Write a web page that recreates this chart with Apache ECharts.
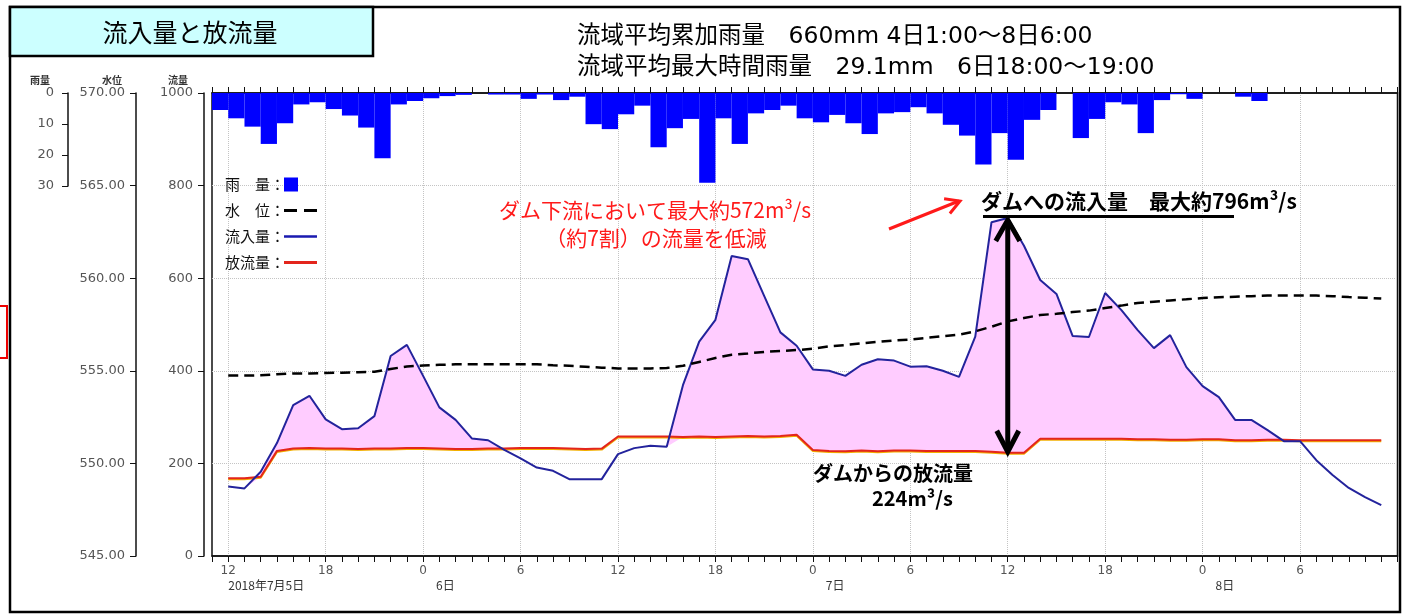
<!DOCTYPE html>
<html><head><meta charset="utf-8">
<script src="https://cdn.jsdelivr.net/npm/echarts/dist/echarts.min.js"></script>
<style>html,body{margin:0;padding:0;background:#fff;}#c{width:1403px;height:615px;}</style>
</head><body><div id="c"></div>
<script>
// ---- data (hours counted from 2018-07-05 00:00) ----
const axisStartHour = 11, axisEndHour = 84;
const dataStartHour = 12;           // first hourly value (5日12:00)
const inflow = [150,146,182,244,326,346,295,274,276,302,
  432,456,389,321,294,254,250,229,211,191,
  184,166,166,166,220,233,238,236,369,463,
  510,648,641,562,483,454,403,400,389,413,
  425,422,409,410,400,387,474,721,730,670,
  596,566,475,473,568,531,488,449,477,408,
  367,343,294,294,272,248,248,207,175,147,127,110];
const outflow = [168,168,171,227,232,233,232,232,231,232,
  232,233,233,232,231,231,232,232,233,233,
  233,232,231,232,258,258,258,258,257,258,
  257,258,259,258,259,262,229,227,226,228,
  226,228,228,227,227,227,227,225,223,223,
  253,253,253,253,253,253,252,252,251,251,
  252,252,250,250,251,251,250,250,250,250,250,250];
const waterLevel = [554.74,554.74,554.76,554.81,554.86,554.86,554.88,554.90,554.92,554.95,
  555.10,555.23,555.29,555.32,555.35,555.35,555.35,555.35,555.35,555.35,
  555.30,555.27,555.22,555.17,555.13,555.13,555.13,555.15,555.27,555.48,
  555.69,555.87,555.94,556.02,556.07,556.12,556.19,556.32,556.39,556.48,
  556.56,556.64,556.69,556.78,556.87,556.95,557.13,557.38,557.67,557.85,
  558.01,558.08,558.17,558.25,558.39,558.52,558.66,558.73,558.80,558.86,
  558.93,558.97,559.00,559.03,559.06,559.07,559.07,559.06,559.03,558.98,558.95,558.90];
const rainStartHour = 11;           // each bar covers [h, h+1]
const rainfall = [5.5,8.2,10.9,16.5,9.8,3.7,3.0,5.2,7.3,11.2,
  21.1,3.7,2.6,1.7,1.0,0.6,0,0.5,0.5,1.9,
  0.5,2.3,1.2,10.1,11.7,6.9,4.1,17.6,11.4,8.4,
  29.1,8.2,16.5,6.6,5.5,4.1,8.2,9.5,7.1,9.8,
  13.3,6.6,6.2,4.6,6.6,10.3,13.8,23.2,13.0,21.6,
  8.7,5.5,0,14.6,8.4,3.0,3.7,13.0,2.3,0.4,
  1.9,0,0,1.2,2.6,0,0,0,0,0,0,0,0];
const dateHours = [12, 24, 48, 72];
const dateTexts = ['2018年7月5日', '6日', '7日', '8日'];
const peakHour = 60;   // 7日12:00 arrow

// ---- build ----
const hourCats = []; for (let h = axisStartHour; h <= axisEndHour; h++) hourCats.push(String(h));
const rainCats = []; for (let h = rainStartHour; h < axisEndHour; h++) rainCats.push(String(h));
function align(arr, first) { const o = hourCats.map(() => null); arr.forEach((v, i) => { o[first - axisStartHour + i] = v; }); return o; }
const inS = align(inflow, dataStartHour), outS = align(outflow, dataStartHour), lvS = align(waterLevel, dataStartHour);
const fillBase = inS.map((v, i) => v == null ? null : Math.min(v, outS[i]));
const fillTop = inS.map((v, i) => v == null ? null : Math.max(v - outS[i], 0));

const JP = 'Noto Sans CJK JP';
const MIX = '"DejaVu Sans", "Noto Sans CJK JP"';
const chart = echarts.init(document.getElementById('c'));
const axCol = '#111';
const lblStyle = { color: '#555', fontSize: 13, fontFamily: 'DejaVu Sans' };
const nameStyle = (pr) => ({ fontSize: 10, color: '#333', fontWeight: 'bold', fontFamily: JP, align: 'right', padding: [0, pr, 0, 0] });
const gridLine = { type: 'dotted', color: '#c4c4c4' };
const isSix = v => (+v) % 6 === 0 && +v > axisStartHour && +v < axisEndHour;

const option = {
  animation: false,
  backgroundColor: '#fff',
  grid: [
    { left: 212, top: 93, width: 1185.5, height: 463, show: true, borderColor: axCol, borderWidth: 1.5, backgroundColor: 'transparent' },
    { left: 68, top: 93, width: 20, height: 93, show: false }
  ],
  legend: {
    data: [
      { name: '雨　量', icon: 'path://M0,0H14V14H0Z M33,7L33,7.01Z' },
      { name: '水　位', icon: 'path://M0,5.5H13V8.5H0Z M20,5.5H33V8.5H20Z M0,0L0,0.01Z M0,14L0,14.01Z' },
      { name: '流入量', icon: 'path://M0,5.7H33V8.3H0Z M0,0L0,0.01Z M0,14L0,14.01Z' },
      { name: '放流量', icon: 'path://M0,5.5H33V8.5H0Z M0,0L0,0.01Z M0,14L0,14.01Z' }
    ],
    orient: 'vertical', left: 225, top: 177, align: 'right', padding: 0,
    itemWidth: 33, itemHeight: 14, itemGap: 11, selectedMode: false,
    formatter: n => n + '：',
    textStyle: { fontSize: 15, color: '#111', fontFamily: JP, padding: [0, -6, 0, 0] }
  },
  xAxis: [
    { type: 'category', gridIndex: 0, data: hourCats, boundaryGap: false, position: 'bottom',
      axisLine: { onZero: false, lineStyle: { color: axCol, width: 1.5 } },
      axisTick: { show: true, interval: 0, length: 6, lineStyle: { color: axCol } },
      axisLabel: { interval: (i, v) => isSix(v), formatter: v => String((+v) % 24),
        margin: 9, color: '#555', fontSize: 12, fontFamily: 'DejaVu Sans' },
      splitLine: { show: true, interval: (i, v) => isSix(v), lineStyle: gridLine } },
    { type: 'category', gridIndex: 0, data: hourCats, boundaryGap: false, position: 'bottom',
      axisLine: { show: false, onZero: false }, axisTick: { show: false }, splitLine: { show: false },
      axisLabel: { interval: (i, v) => dateHours.indexOf(+v) >= 0,
        formatter: v => { const k = dateHours.indexOf(+v); return k < 0 ? '' : (k === 0 ? '{a|' : '{b|') + dateTexts[k] + '}'; },
        align: 'left', margin: 23,
        rich: { a: { fontSize: 12, color: '#333', fontFamily: JP }, b: { fontSize: 12, color: '#333', fontFamily: JP, padding: [0, 0, 0, 13] } } } },
    { type: 'category', gridIndex: 0, data: hourCats, boundaryGap: false, position: 'top',
      axisLine: { onZero: false, lineStyle: { color: axCol, width: 1.5 } },
      axisTick: { show: true, interval: 0, length: 6, lineStyle: { color: axCol } },
      axisLabel: { show: false }, splitLine: { show: false } },
    { type: 'category', gridIndex: 0, data: rainCats, boundaryGap: true, show: false, axisLine: { onZero: false } },
    { type: 'value', gridIndex: 1, show: false }
  ],
  yAxis: [
    { type: 'value', gridIndex: 0, min: 0, max: 1000, interval: 200, position: 'left', offset: 8,
      name: '流量', nameLocation: 'end', nameGap: 8, nameTextStyle: nameStyle(16),
      axisLine: { show: true, onZero: false, lineStyle: { color: axCol, width: 1.5 } },
      axisTick: { show: true, length: 6, lineStyle: { color: axCol } },
      axisLabel: Object.assign({ margin: 11, formatter: v => String(v) }, lblStyle),
      splitLine: { show: true, showMinLine: false, showMaxLine: false, lineStyle: gridLine } },
    { type: 'value', gridIndex: 0, min: 545, max: 570, interval: 5, position: 'left', offset: 76,
      name: '水位', nameLocation: 'end', nameGap: 8, nameTextStyle: nameStyle(14),
      axisLine: { show: true, onZero: false, lineStyle: { color: axCol, width: 1.5 } },
      axisTick: { show: true, length: 6, lineStyle: { color: axCol } },
      axisLabel: Object.assign({ margin: 11, formatter: v => v.toFixed(2) }, lblStyle),
      splitLine: { show: false } },
    { type: 'value', gridIndex: 0, min: 0, max: 150, inverse: true, show: false, splitLine: { show: false } },
    { type: 'value', gridIndex: 1, min: 0, max: 30, interval: 10, inverse: true, position: 'left',
      name: '雨量', nameLocation: 'start', nameGap: 8, nameTextStyle: nameStyle(18),
      axisLine: { show: true, onZero: false, lineStyle: { color: axCol, width: 1.5 } },
      axisTick: { show: true, length: 6, lineStyle: { color: axCol } },
      axisLabel: Object.assign({ margin: 14 }, lblStyle),
      splitLine: { show: false } }
  ],
  series: [
    { name: 'base', type: 'line', xAxisIndex: 0, yAxisIndex: 0, data: fillBase, stack: 'gap', symbol: 'none', silent: true,
      lineStyle: { width: 0, opacity: 0 }, z: 1 },
    { name: 'gap', type: 'line', xAxisIndex: 0, yAxisIndex: 0, data: fillTop, stack: 'gap', symbol: 'none', silent: true,
      lineStyle: { width: 0, opacity: 0 }, areaStyle: { color: '#ffccff', opacity: 1 }, z: 1 },
    { name: '雨　量', type: 'bar', xAxisIndex: 3, yAxisIndex: 2, data: rainfall, barCategoryGap: '0%', barGap: '0%',
      itemStyle: { color: '#0000ff' }, z: 2 },
    { name: '放流量', type: 'line', xAxisIndex: 0, yAxisIndex: 0, data: outS, symbol: 'none',
      lineStyle: { color: '#e3251c', width: 2, shadowColor: '#f2b000', shadowOffsetY: 1 }, itemStyle: { color: '#e3251c' }, z: 3 },
    { name: '流入量', type: 'line', xAxisIndex: 0, yAxisIndex: 0, data: inS, symbol: 'none',
      lineStyle: { color: '#23239c', width: 2 }, itemStyle: { color: '#1a1ab0' }, z: 4 },
    { name: '水　位', type: 'line', xAxisIndex: 0, yAxisIndex: 1, data: lvS, symbol: 'none',
      lineStyle: { color: '#000', width: 2.5, type: [10, 6] }, itemStyle: { color: '#000' }, z: 5 }
  ]
};
chart.setOption(option);

// annotations
const idx = peakHour - axisStartHour;
const pTop = chart.convertToPixel({ xAxisIndex: 0, yAxisIndex: 0 }, [idx, inS[idx]]);
const pBot = chart.convertToPixel({ xAxisIndex: 0, yAxisIndex: 0 }, [idx, outS[idx]]);
const ax = pTop[0], ty = pTop[1] + 1, by = pBot[1];

const txt = (x, y, s, o) => ({ type: 'text', x: x, y: y, z: 100,
  style: Object.assign({ text: s, fontFamily: JP, fill: '#000', textVerticalAlign: 'middle' }, o) });

chart.setOption({
  graphic: { elements: [
    { type: 'rect', shape: { x: 10, y: 7, width: 1390, height: 605 }, style: { fill: 'none', stroke: '#000', lineWidth: 2.5 }, z: 50 },
    { type: 'rect', shape: { x: -10, y: 306, width: 17, height: 52 }, style: { fill: 'none', stroke: '#e00', lineWidth: 2 }, z: 50 },
    { type: 'rect', shape: { x: 10, y: 7, width: 363, height: 49 }, style: { fill: '#ccffff', stroke: '#000', lineWidth: 2.5 }, z: 51 },
    txt(190, 32, '流入量と放流量', { fontSize: 25, textAlign: 'center' }),
    txt(577, 37, '流域平均累加雨量　660mm 4日1:00〜8日6:00', { fontSize: 23.5, fontFamily: MIX, textAlign: 'left' }),
    txt(577, 68, '流域平均最大時間雨量　29.1mm　6日18:00〜19:00', { fontSize: 23.5, fontFamily: MIX, textAlign: 'left' }),
    txt(655, 210, 'ダム下流において最大約572m³/s', { fontSize: 21, fill: '#ff1a1a', textAlign: 'center' }),
    txt(656, 238, '（約7割）の流量を低減', { fontSize: 21, fill: '#ff1a1a', textAlign: 'center' }),
    { type: 'polyline', shape: { points: [[889, 229], [959, 201]] }, style: { stroke: '#ff1a1a', lineWidth: 3 }, z: 100 },
    { type: 'polyline', shape: { points: [[949.9, 213.5], [960, 201], [944.1, 198.7]] }, style: { stroke: '#ff1a1a', lineWidth: 3, fill: 'none' }, z: 100 },
    txt(981, 201, 'ダムへの流入量　最大約796m³/s', { fontSize: 21, fontWeight: 'bold', textAlign: 'left' }),
    { type: 'polyline', shape: { points: [[983, 216.5], [1234, 216.5]] }, style: { stroke: '#000', lineWidth: 3 }, z: 100 },
    { type: 'polyline', shape: { points: [[ax, ty + 2], [ax, by - 2]] }, style: { stroke: '#000', lineWidth: 5 }, z: 100 },
    { type: 'polyline', shape: { points: [[ax - 12, ty + 22], [ax, ty + 1], [ax + 12, ty + 22]] }, style: { stroke: '#000', lineWidth: 5, fill: 'none' }, z: 100 },
    { type: 'polyline', shape: { points: [[ax - 11, by - 22], [ax, by - 1], [ax + 11, by - 22]] }, style: { stroke: '#000', lineWidth: 5, fill: 'none' }, z: 100 },
    txt(813, 473, 'ダムからの放流量', { fontSize: 20, fontWeight: 'bold', textAlign: 'left' }),
    txt(872, 498, '224m³/s', { fontSize: 20, fontWeight: 'bold', textAlign: 'left' })
  ] }
});
</script></body></html>
